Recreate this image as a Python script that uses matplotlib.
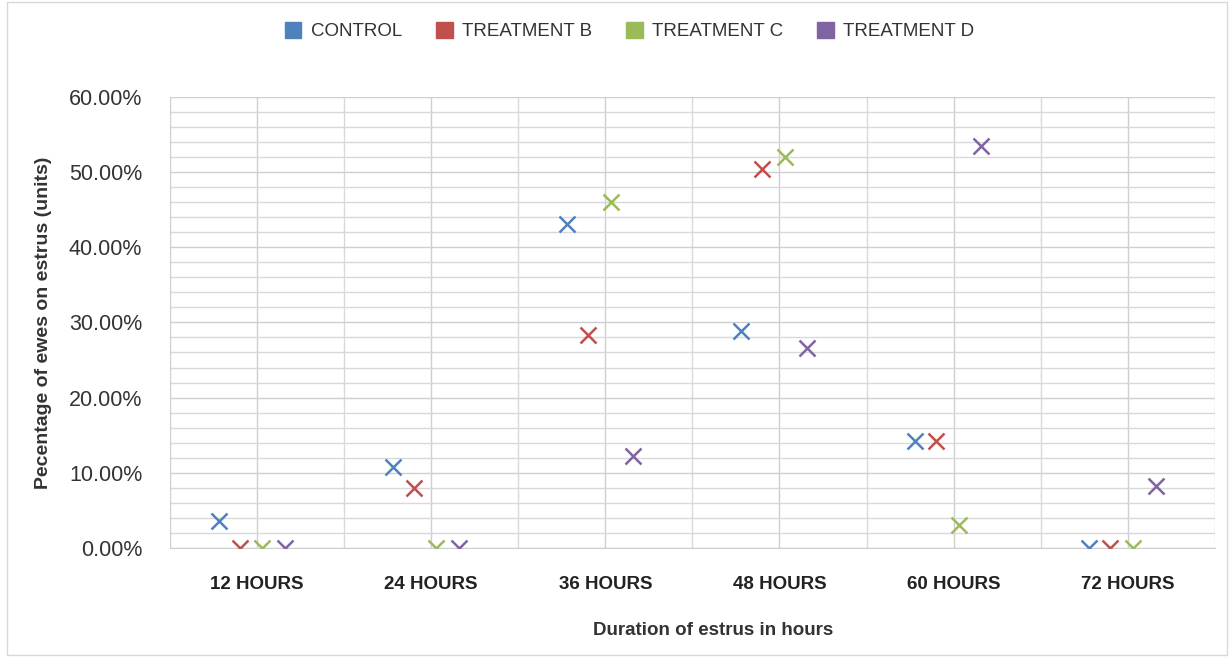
import numpy as np
import matplotlib.pyplot as plt
from matplotlib.patches import Patch
from matplotlib.ticker import MultipleLocator, FuncFormatter

categorias = ["12 HOURS", "24 HOURS", "36 HOURS", "48 HOURS", "60 HOURS", "72 HOURS"]
series = ["CONTROL", "TREATMENT B", "TREATMENT C", "TREATMENT D"]

control = [3.6, 10.8, 43.1, 28.9, 14.2, 0.0]
trat_b  = [0.0, 8.0, 28.3, 50.4, 14.2, 0.0]
trat_c  = [0.0, 0.0, 46.0, 52.0, 3.1, 0.0]
trat_d  = [0.0, 0.0, 12.2, 26.6, 53.5, 8.2]

colores = ["#4F81BD", "#C0504D", "#9BBB59", "#8064A2"]
offsets = [-0.22, -0.10, 0.03, 0.16]

plt.rcParams['font.family'] = ['Liberation Sans', 'DejaVu Sans']

fig = plt.figure(figsize=(12.32, 6.63), dpi=100)
ax = fig.add_axes([0.138, 0.1735, 0.848, 0.6805])

x = np.arange(len(categorias))
datos = [control, trat_b, trat_c, trat_d]
for vals, col, off in zip(datos, colores, offsets):
    ax.plot(x + off, vals, linestyle='none', marker='x', ms=11, mew=1.8,
            color=col, zorder=3)

ax.set_xlim(-0.5, len(categorias) - 0.5)
ax.set_ylim(0, 60)
ax.yaxis.set_major_locator(MultipleLocator(10))
ax.yaxis.set_minor_locator(MultipleLocator(2))
ax.yaxis.set_major_formatter(FuncFormatter(lambda v, p: f"{v:.2f}%"))
ax.set_xticks(x)
ax.set_xticklabels(categorias, fontsize=13.5, fontweight='bold', color='#222222')
ax.set_xticks(np.arange(-0.5, len(categorias), 1.0), minor=True)
ax.tick_params(axis='both', which='both', length=0)
ax.tick_params(axis='y', labelsize=15.5, labelcolor='#333333', pad=20)
ax.tick_params(axis='x', pad=20)

ax.grid(True, which='major', axis='both', color='#cfcfcf', lw=1.0, zorder=0)
ax.grid(True, which='minor', axis='both', color='#d9d9d9', lw=1.0, zorder=0)
for s in ax.spines.values():
    s.set_visible(False)
ax.spines['left'].set_visible(True)
ax.spines['left'].set_color('#d0d0d0')
ax.spines['bottom'].set_visible(True)
ax.spines['bottom'].set_color('#d0d0d0')

ax.set_xlabel("Duration of estrus in hours", fontsize=13.5, fontweight='bold',
              color='#333333')
ax.xaxis.set_label_coords(0.52, -0.163)
ax.set_ylabel("Pecentage of ewes on estrus (units)", fontsize=14, fontweight='bold',
              color='#333333', labelpad=12)

handles = [Patch(facecolor=c, edgecolor=c) for c in colores]
fig.legend(handles, series, loc='center', bbox_to_anchor=(0.511, 0.953), ncol=4,
           frameon=False, fontsize=13.5, handlelength=0.9, handleheight=0.9,
           columnspacing=1.8, handletextpad=0.5, labelcolor='#333333')

# marco exterior
fig.patches.append(plt.Rectangle((0.006, 0.012), 0.99, 0.985, transform=fig.transFigure,
                                 fill=False, edgecolor='#d9d9d9', lw=1.0))

fig.savefig("out.png", dpi=100)
